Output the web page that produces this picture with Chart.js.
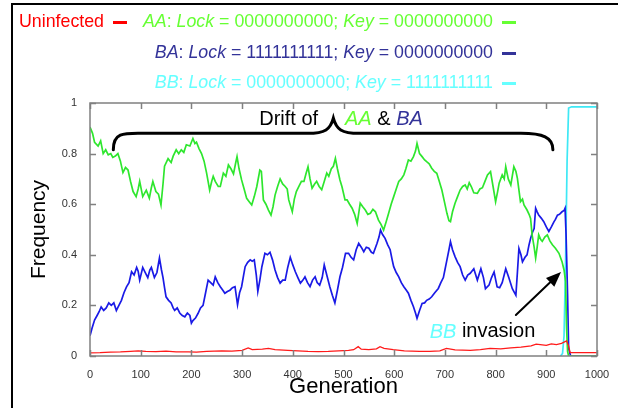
<!DOCTYPE html>
<html lang="en">
<head>
  <meta charset="UTF-8" />
  <title>Lock and key drift</title>
  <script src="https://cdn.jsdelivr.net/npm/chart.js"></script>
  <style>
    html, body {
      margin: 0;
      padding: 0;
      width: 618px;
      height: 408px;
      overflow: hidden;
      background: #fff;
      font-family: "Liberation Sans", Arial, sans-serif;
    }
    .frame {
      position: absolute;
      left: 11px;
      top: 3px;
      width: 700px;
      height: 500px;
      border: 2px solid #000;
    }
    canvas {
      position: absolute;
      left: 0;
      top: 0;
    }
    .row {
      position: absolute;
      right: 102px;
      font-size: 17.8px;
      line-height: 22px;
      white-space: nowrap;
    }
    .dash {
      display: inline-block;
      width: 14px;
      height: 3px;
      margin-left: 9px;
      vertical-align: middle;
    }
    .red { color: #ff0000; }
    .green { color: #66ff33; }
    .navy { color: #333399; }
    .cyan { color: #66ffff; }
  </style>
</head>
<body>

<div class="frame"></div>
<canvas id="chart" width="618" height="408"></canvas>

<div class="row" style="top:10px">
  <span class="red">Uninfected</span><span class="dash" style="background:#ff0000;margin-right:11px"></span>
  <span class="green"><i>AA</i>: <i>Lock</i> = 0000000000; <i>Key</i> = 0000000000</span><span class="dash" style="background:#66ff33"></span>
</div>
<div class="row" style="top:41px">
  <span class="navy"><i>BA</i>: <i>Lock</i> = 1111111111; <i>Key</i> = 0000000000</span><span class="dash" style="background:#333399"></span>
</div>
<div class="row" style="top:71px">
  <span class="cyan"><i>BB</i>: <i>Lock</i> = 0000000000; <i>Key</i> = 1111111111</span><span class="dash" style="background:#66ffff"></span>
</div>

<script>
  // series (generation, frequency)
  const aaGen = [0, 5, 9, 16, 21, 26, 31, 36, 41, 45, 50, 55, 60, 65, 70, 75, 80, 85, 91, 95,
    98, 104, 108, 111, 117, 121, 124, 130, 135, 140, 144, 147, 154, 160, 164, 170, 175, 180, 185, 190,
    197, 203, 207, 210, 215, 220, 225, 230, 236, 240, 243, 247, 253, 257, 263, 268, 273, 278, 283, 287,
    290, 294, 299, 304, 309, 314, 319, 324, 329, 335, 338, 342, 347, 352, 357, 361, 365, 370, 375, 380,
    385, 389, 392, 399, 403, 407, 412, 417, 422, 426, 430, 434, 438, 443, 447, 452, 457, 462, 467, 471,
    476, 480, 484, 488, 493, 497, 503, 507, 512, 517, 522, 527, 533, 538, 543, 548, 553, 558, 563, 569,
    574, 579, 584, 589, 594, 599, 604, 609, 614, 619, 623, 628, 633, 638, 642, 645, 650, 655, 660, 664,
    669, 674, 679, 684, 689, 694, 699, 704, 708, 711, 715, 720, 725, 730, 735, 740, 744, 748, 752, 757,
    764, 769, 774, 779, 784, 790, 795, 800, 804, 807, 813, 817, 820, 825, 830, 836, 840, 843, 849, 853,
    856, 862, 866, 869, 872, 876, 879, 882, 885, 889, 892, 897, 902, 907, 912, 918, 925, 931, 935, 938,
    940, 942, 944, 1000];
  const aaFreq = [0.905, 0.88, 0.845, 0.83, 0.85, 0.80, 0.815, 0.795, 0.80, 0.785, 0.79, 0.80, 0.77, 0.725, 0.745, 0.735, 0.69, 0.65, 0.63, 0.66,
    0.69, 0.63, 0.645, 0.655, 0.624, 0.665, 0.69, 0.65, 0.64, 0.597, 0.68, 0.75, 0.78, 0.765, 0.79, 0.815, 0.80, 0.815, 0.805, 0.835,
    0.83, 0.86, 0.84, 0.845, 0.82, 0.80, 0.77, 0.723, 0.656, 0.69, 0.71, 0.69, 0.67, 0.67, 0.723, 0.71, 0.755, 0.74, 0.72, 0.76,
    0.788, 0.74, 0.696, 0.66, 0.623, 0.61, 0.597, 0.63, 0.67, 0.735, 0.73, 0.617, 0.60, 0.577, 0.557, 0.59, 0.636, 0.67, 0.70, 0.68,
    0.67, 0.66, 0.617, 0.57, 0.62, 0.65, 0.67, 0.69, 0.69, 0.72, 0.748, 0.70, 0.663, 0.68, 0.69, 0.67, 0.657, 0.69, 0.723, 0.71,
    0.74, 0.75, 0.781, 0.74, 0.696, 0.669, 0.617, 0.617, 0.60, 0.584, 0.56, 0.524, 0.604, 0.59, 0.577, 0.56, 0.564, 0.58, 0.57, 0.537,
    0.52, 0.498, 0.53, 0.564, 0.60, 0.63, 0.66, 0.69, 0.70, 0.716, 0.74, 0.775, 0.77, 0.788, 0.81, 0.84, 0.80, 0.788, 0.775, 0.768,
    0.76, 0.742, 0.73, 0.722, 0.69, 0.656, 0.61, 0.564, 0.535, 0.531, 0.57, 0.604, 0.63, 0.656, 0.67, 0.676, 0.66, 0.685, 0.67, 0.645,
    0.643, 0.66, 0.665, 0.69, 0.716, 0.729, 0.67, 0.61, 0.65, 0.683, 0.716, 0.70, 0.748, 0.70, 0.676, 0.748, 0.73, 0.702, 0.61, 0.62,
    0.597, 0.577, 0.56, 0.544, 0.479, 0.43, 0.387, 0.43, 0.479, 0.46, 0.453, 0.47, 0.479, 0.455, 0.44, 0.426, 0.406, 0.373, 0.34, 0.295,
    0.11, 0.017, 0, 0];

  const baGen = [0, 4, 9, 14, 18, 22, 27, 32, 37, 42, 47, 52, 57, 62, 67, 72, 77, 82, 87, 92,
    95, 98, 104, 109, 114, 118, 121, 127, 132, 137, 141, 144, 147, 150, 155, 160, 164, 167, 172, 177,
    182, 187, 192, 197, 200, 203, 208, 213, 218, 223, 228, 233, 238, 243, 247, 252, 257, 262, 266, 271,
    276, 281, 286, 291, 295, 299, 303, 306, 311, 316, 320, 324, 328, 331, 335, 339, 345, 350, 355, 360,
    365, 370, 375, 380, 385, 390, 395, 400, 405, 410, 415, 420, 424, 429, 434, 439, 444, 448, 453, 458,
    462, 467, 473, 478, 483, 488, 493, 498, 504, 510, 515, 520, 525, 530, 535, 540, 545, 550, 555, 559,
    566, 570, 573, 577, 582, 587, 592, 596, 599, 604, 609, 614, 619, 624, 628, 633, 638, 642, 645, 650,
    655, 660, 664, 669, 674, 680, 687, 692, 697, 700, 704, 708, 711, 715, 720, 725, 730, 735, 740, 745,
    750, 757, 764, 771, 776, 780, 787, 792, 797, 803, 808, 813, 820, 826, 833, 840, 843, 846, 850, 853,
    858, 862, 866, 869, 873, 876, 879, 882, 885, 890, 895, 900, 905, 910, 915, 918, 922, 926, 931, 935,
    937, 939, 942, 944, 948, 1000];
  const baFreq = [0.08, 0.11, 0.142, 0.16, 0.175, 0.194, 0.18, 0.19, 0.21, 0.20, 0.21, 0.18, 0.20, 0.22, 0.25, 0.273, 0.29, 0.333, 0.32, 0.35,
    0.335, 0.30, 0.35, 0.33, 0.31, 0.34, 0.35, 0.31, 0.33, 0.387, 0.34, 0.31, 0.27, 0.234, 0.22, 0.21, 0.19, 0.18, 0.19, 0.17,
    0.16, 0.155, 0.17, 0.16, 0.13, 0.14, 0.15, 0.168, 0.19, 0.20, 0.25, 0.30, 0.29, 0.28, 0.313, 0.29, 0.274, 0.26, 0.248, 0.255,
    0.26, 0.27, 0.274, 0.203, 0.25, 0.274, 0.32, 0.353, 0.37, 0.38, 0.375, 0.38, 0.32, 0.255, 0.30, 0.353, 0.406, 0.40, 0.41, 0.38,
    0.34, 0.31, 0.288, 0.30, 0.30, 0.35, 0.39, 0.36, 0.333, 0.31, 0.288, 0.30, 0.313, 0.29, 0.274, 0.30, 0.313, 0.29, 0.28, 0.31,
    0.36, 0.32, 0.274, 0.24, 0.21, 0.26, 0.313, 0.35, 0.406, 0.406, 0.39, 0.38, 0.42, 0.445, 0.43, 0.412, 0.43, 0.426, 0.41, 0.406,
    0.445, 0.47, 0.498, 0.48, 0.465, 0.44, 0.42, 0.38, 0.353, 0.33, 0.313, 0.29, 0.274, 0.26, 0.248, 0.22, 0.195, 0.17, 0.149, 0.18,
    0.208, 0.21, 0.22, 0.225, 0.234, 0.25, 0.267, 0.29, 0.31, 0.34, 0.38, 0.42, 0.452, 0.42, 0.393, 0.37, 0.353, 0.32, 0.30, 0.32,
    0.327, 0.345, 0.30, 0.345, 0.31, 0.266, 0.28, 0.31, 0.332, 0.273, 0.27, 0.29, 0.345, 0.31, 0.266, 0.24, 0.33, 0.425, 0.40, 0.372,
    0.39, 0.40, 0.44, 0.465, 0.49, 0.504, 0.584, 0.57, 0.557, 0.545, 0.531, 0.51, 0.492, 0.51, 0.53, 0.54, 0.557, 0.56, 0.57, 0.575,
    0.584, 0.479, 0.24, 0.03, 0, 0];

  const bbGen = [928, 932, 935, 938, 941, 944, 950, 1000];
  const bbFreq = [0, 0.01, 0.08, 0.37, 0.77, 0.98, 0.985, 0.985];

  const uninfGen = [0, 20, 40, 60, 80, 95, 110, 130, 150, 170, 194, 210, 230, 260, 280, 300, 312, 320, 340, 352,
    365, 390, 410, 430, 450, 470, 490, 510, 520, 529, 535, 550, 565, 572, 580, 598, 620, 650, 670, 690,
    703, 720, 750, 770, 789, 810, 830, 850, 870, 880, 888, 900, 910, 920, 930, 940, 944, 947, 970, 1000];
  const uninfFreq = [0.012, 0.013, 0.015, 0.016, 0.018, 0.02, 0.018, 0.017, 0.019, 0.016, 0.016, 0.015, 0.018, 0.02, 0.019, 0.022, 0.032, 0.025, 0.027, 0.03,
    0.025, 0.022, 0.02, 0.018, 0.017, 0.018, 0.02, 0.022, 0.025, 0.037, 0.027, 0.025, 0.028, 0.037, 0.03, 0.025, 0.02, 0.018, 0.018, 0.02,
    0.03, 0.024, 0.022, 0.025, 0.03, 0.028, 0.032, 0.035, 0.04, 0.047, 0.045, 0.042, 0.048, 0.045, 0.05, 0.06, 0.04, 0.013, 0.013, 0.013];

  const xTicks = { min: 0, max: 1000, step: 100 };
  const yTicks = { min: 0, max: 1, step: 0.2 };

  const pts = (g, f) => g.map((v, i) => ({ x: v, y: f[i] }));
  const FONT = '"Liberation Sans", Arial, sans-serif';

  // inward ticks, plot box and the text annotations
  const extras = {
    id: 'extras',
    afterDraw(chart) {
      const { ctx, chartArea: a, scales: { x, y } } = chart;
      ctx.save();
      ctx.strokeStyle = '#808080';
      ctx.lineWidth = 1.5;
      ctx.strokeRect(a.left, a.top, a.right - a.left, a.bottom - a.top);
      ctx.beginPath();
      x.ticks.forEach(t => {
        const px = Math.round(x.getPixelForValue(t.value)) + 0.5;
        ctx.moveTo(px, a.bottom); ctx.lineTo(px, a.bottom - 6);
        ctx.moveTo(px, a.top); ctx.lineTo(px, a.top + 6);
      });
      y.ticks.forEach(t => {
        const py = Math.round(y.getPixelForValue(t.value)) + 0.5;
        ctx.moveTo(a.left, py); ctx.lineTo(a.left + 6, py);
        ctx.moveTo(a.right, py); ctx.lineTo(a.right - 6, py);
      });
      ctx.stroke();

      // brace over the drift period
      const X = v => x.getPixelForValue(v), Y = v => y.getPixelForValue(v);
      const l = X(46), r = X(913), tip = X(480);
      const end = Y(0.815), bar = Y(0.88), top = Y(0.94);
      ctx.strokeStyle = '#000';
      ctx.lineWidth = 3;
      ctx.lineCap = 'round';
      ctx.beginPath();
      ctx.moveTo(l, end);
      ctx.bezierCurveTo(l, bar - 2, l + 12, bar, l + 32, bar);
      ctx.lineTo(tip - 26, bar);
      ctx.bezierCurveTo(tip - 8, bar, tip - 3, bar - 4, tip, top);
      ctx.bezierCurveTo(tip + 3, bar - 4, tip + 8, bar, tip + 26, bar);
      ctx.lineTo(r - 32, bar);
      ctx.bezierCurveTo(r - 10, bar, r, bar + 4, r, end);
      ctx.stroke();

      ctx.font = '20px ' + FONT;
      ctx.textBaseline = 'middle';
      const ty = Y(0.935);
      ctx.fillStyle = '#000';
      ctx.textAlign = 'right';
      ctx.fillText('Drift of', X(450), ty);
      ctx.textAlign = 'left';
      let cx = X(503);
      let ty2 = ty;
      const seg = (txt, col, it) => {
        ctx.font = (it ? 'italic ' : '') + '20px ' + FONT;
        ctx.fillStyle = col;
        ctx.fillText(txt, cx, ty2);
        cx += ctx.measureText(txt).width;
      };
      seg('AA', '#66ff33', true);
      seg(' & ', '#000', false);
      seg('BA', '#333399', true);

      cx = X(670);
      ty2 = Y(0.095);
      seg('BB', '#66ffff', true);
      seg(' invasion', '#000', false);

      // arrow to the invasion
      const x0 = X(840), y0 = Y(0.162), x1 = X(929), y1 = Y(0.332);
      const ang = Math.atan2(y1 - y0, x1 - x0);
      ctx.lineWidth = 2;
      ctx.beginPath();
      ctx.moveTo(x0, y0);
      ctx.lineTo(x1 - 12 * Math.cos(ang), y1 - 12 * Math.sin(ang));
      ctx.stroke();
      ctx.fillStyle = '#000';
      ctx.beginPath();
      ctx.moveTo(x1, y1);
      ctx.lineTo(x1 - 15 * Math.cos(ang) + 6 * Math.sin(ang), y1 - 15 * Math.sin(ang) - 6 * Math.cos(ang));
      ctx.lineTo(x1 - 15 * Math.cos(ang) - 6 * Math.sin(ang), y1 - 15 * Math.sin(ang) + 6 * Math.cos(ang));
      ctx.closePath();
      ctx.fill();
      ctx.restore();
    }
  };

  new Chart(document.getElementById('chart'), {
    type: 'line',
    data: {
      datasets: [
        { label: 'Uninfected', data: pts(uninfGen, uninfFreq), borderColor: '#ff1a1a', borderWidth: 1.3 },
        { label: 'AA', data: pts(aaGen, aaFreq), borderColor: '#2ee62e', borderWidth: 1.7 },
        { label: 'BA', data: pts(baGen, baFreq), borderColor: '#1a1ae6', borderWidth: 1.7 },
        { label: 'BB', data: pts(bbGen, bbFreq), borderColor: '#3ee8f5', borderWidth: 1.7 }
      ]
    },
    options: {
      responsive: false,
      animation: false,
      elements: { point: { radius: 0 }, line: { tension: 0, fill: false } },
      layout: { padding: { top: 103, right: 21, left: 0, bottom: 0 } },
      plugins: { legend: { display: false }, tooltip: { enabled: false } },
      scales: {
        x: {
          type: 'linear',
          min: xTicks.min, max: xTicks.max,
          ticks: {
            stepSize: xTicks.step, color: '#333', padding: 4, maxRotation: 0,
            font: { family: FONT, size: 11 },
            callback: v => String(v)
          },
          grid: { display: false },
          border: { display: false },
          title: { display: true, text: 'Generation', color: '#000', padding: 8, font: { family: FONT, size: 22 } },
          afterFit: s => { s.height = 52; }
        },
        y: {
          min: yTicks.min, max: yTicks.max,
          ticks: {
            stepSize: yTicks.step, color: '#333', padding: 5,
            font: { family: FONT, size: 11 },
            callback: v => String(Math.round(v * 10) / 10)
          },
          grid: { display: false },
          border: { display: false },
          title: { display: true, text: 'Frequency', color: '#000', padding: 27, font: { family: FONT, size: 21 } },
          afterFit: s => { s.width = 90; }
        }
      }
    },
    plugins: [extras]
  });
</script>

</body>
</html>
